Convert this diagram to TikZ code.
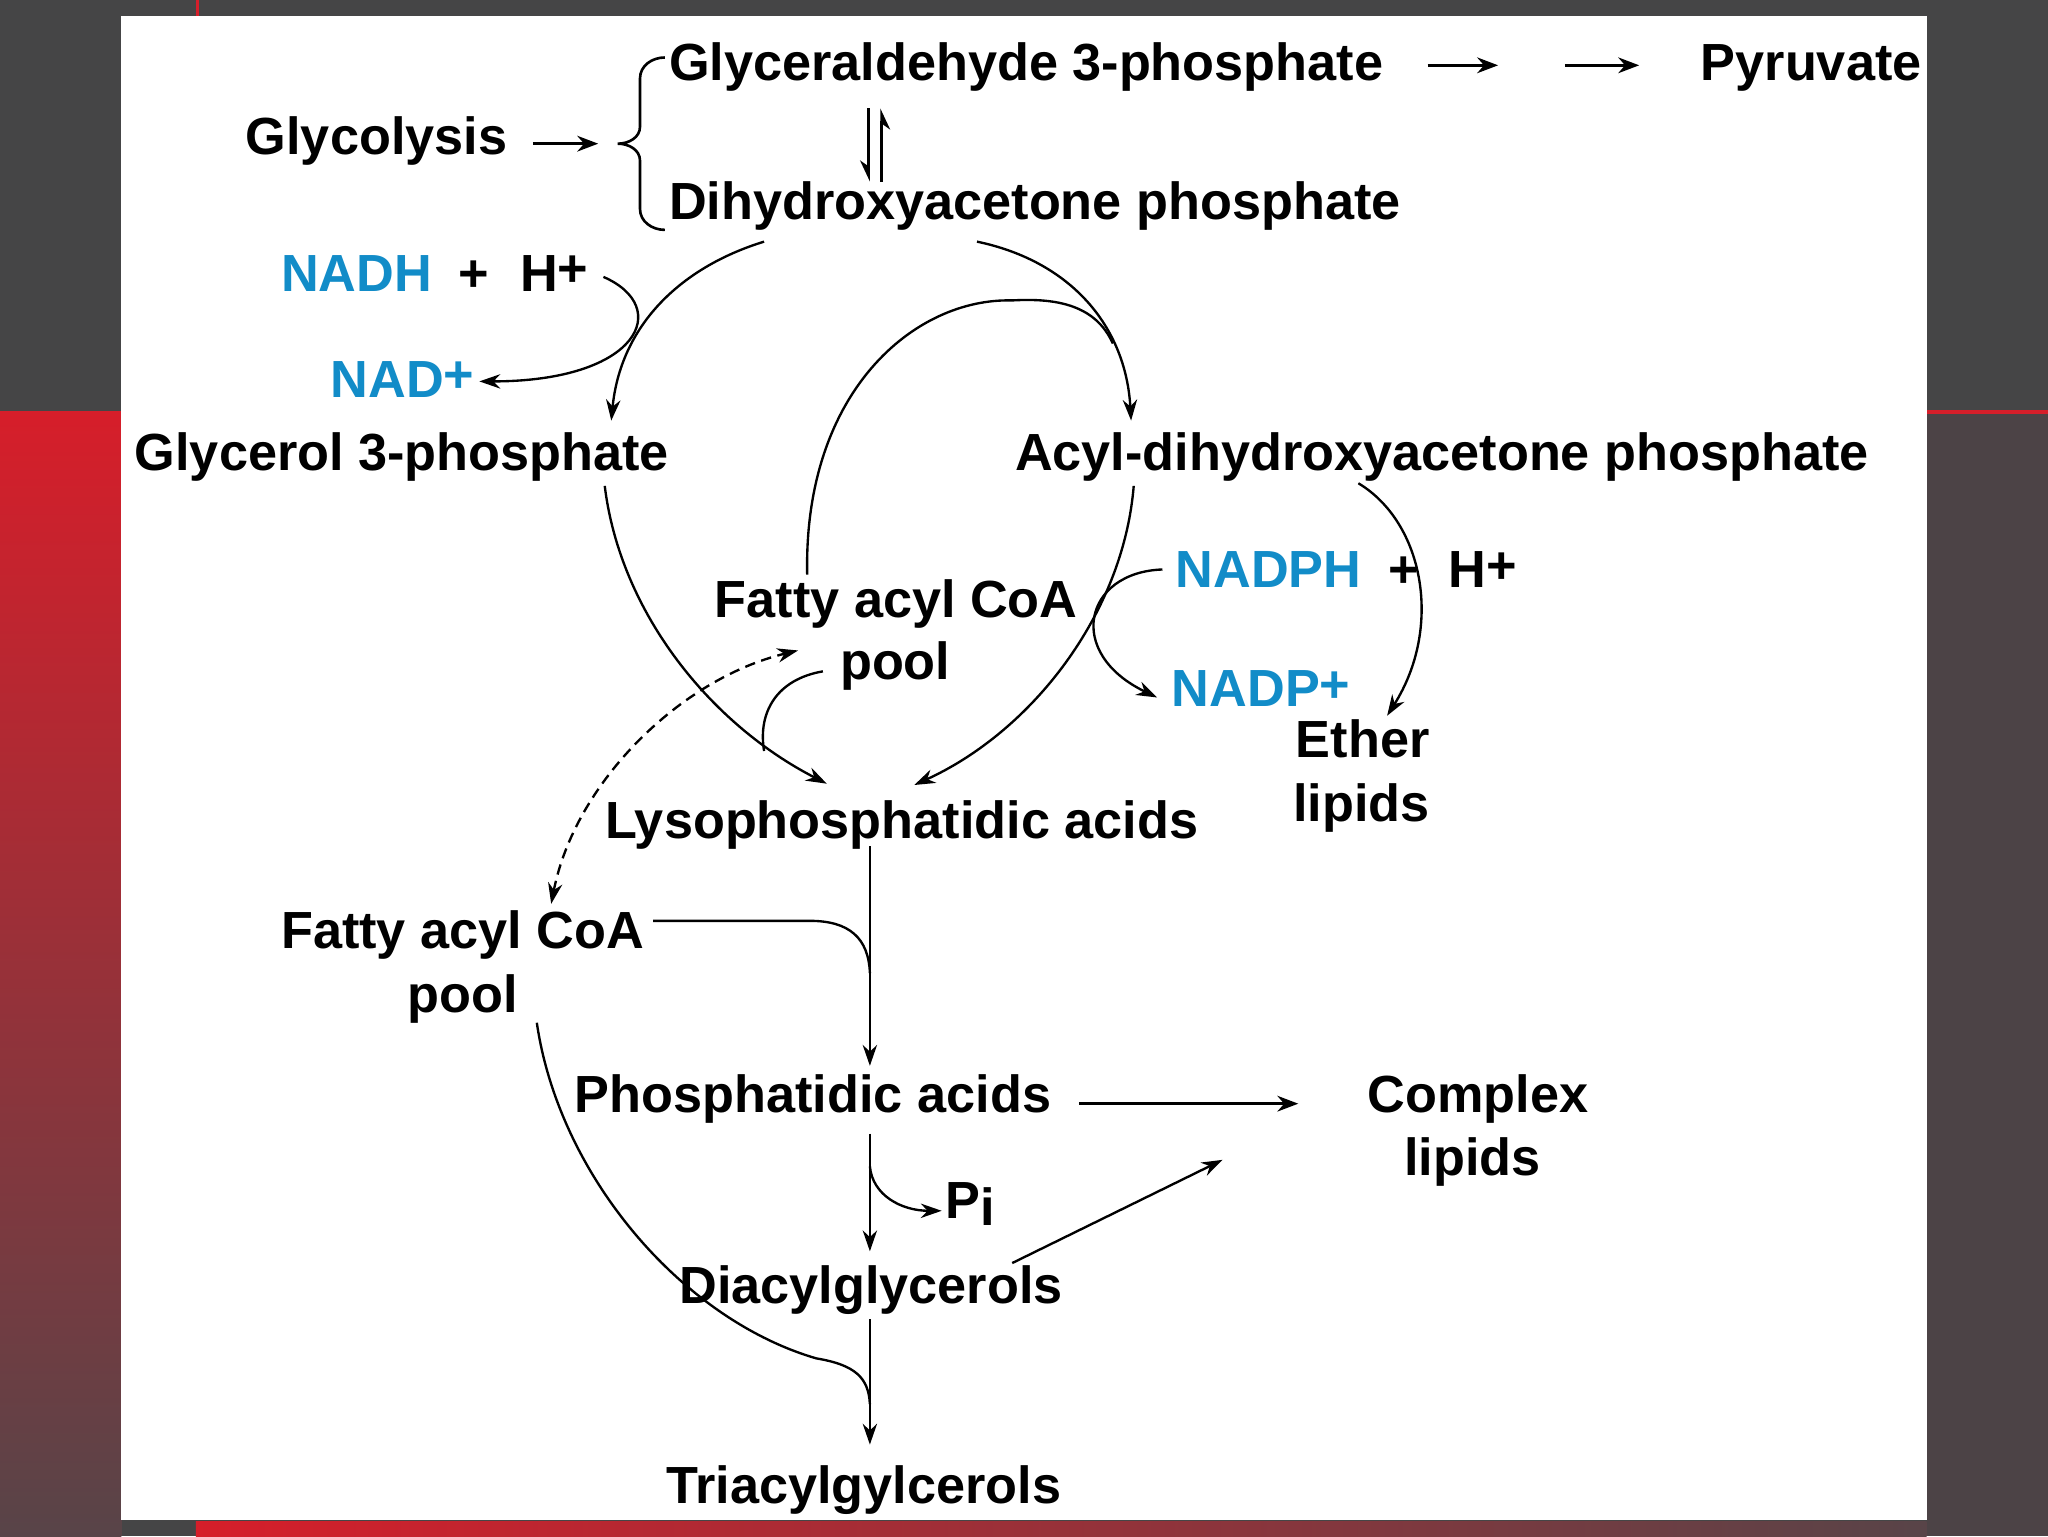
\documentclass[tikz,border=0pt]{standalone}
\usepackage{fontspec}
\setmainfont{Liberation Sans}
\usetikzlibrary{arrows.meta}
\definecolor{bggray}{RGB}{69,69,70}
\definecolor{slidered}{RGB}{214,30,42}
\definecolor{darkred}{RGB}{88,68,72}
\definecolor{rightbrown}{RGB}{76,67,70}
\definecolor{nadblue}{RGB}{18,140,200}
\newcommand\rplus{\raisebox{3.5pt}{+}}
\begin{document}
\begin{tikzpicture}[x=1pt,y=-1pt,
  lbl/.style={font=\fontsize{40}{48}\selectfont\bfseries, inner sep=0pt, anchor=base west},
  blu/.style={lbl,text=nadblue},
  conn/.style={line width=1.8pt,-{Stealth[length=16pt,width=11pt]}},
  bold conn/.style={line width=2.4pt,-{Stealth[length=16pt,width=12pt]}},
  both conn/.style={line width=1.8pt,dash pattern=on 8pt off 5pt,{Stealth[length=16pt,width=11pt]}-{Stealth[length=16pt,width=11pt]}},
  plainline/.style={line width=1.8pt},
  harp/.style={line width=2pt,-{Stealth[right,length=14pt,width=13pt]}}
]
% ---------- background ----------
\useasboundingbox (0,0) rectangle (1568,1176);
\fill[bggray] (0,0) rectangle (1568,1176);
\shade[top color=slidered,bottom color=darkred] (0,315) rectangle (93,1176);
\fill[rightbrown] (1475,316) rectangle (1568,1176);
\fill[slidered] (1475,314) rectangle (1568,317);
\shade[left color=slidered,right color=darkred] (150,1165) rectangle (1475,1176);
\draw[slidered,line width=2pt] (151,0) -- (151,12);
\fill[white] (93,12) rectangle (1475,1164);

% ---------- nodes ----------
\node[lbl] (g3p) at (512,62) {Glyceraldehyde 3-phosphate};
\node[lbl] (pyr) at (1302,62) {Pyruvate};
\node[lbl] (glyc) at (188,118) {Glycolysis};
\node[lbl] (dhap) at (512,168) {Dihydroxyacetone phosphate};
\node[blu] (nadh) at (215,223) {NADH};
\node[lbl] (plusA) at (351,223) {+};
\node[lbl] (hA) at (398,223) {H\rplus};
\node[blu] (nad) at (253,304) {NAD\rplus};
\node[lbl] (gro) at (103,360) {Glycerol 3-phosphate};
\node[lbl] (adhap) at (777,360) {Acyl-dihydroxyacetone phosphate};
\node[blu] (nadph) at (900,450) {NADPH};
\node[lbl] (plusB) at (1063,450) {+};
\node[lbl] (hB) at (1109,450) {H\rplus};
\node[lbl] (faA) at (547,473) {Fatty acyl CoA};
\node[lbl] (poolA) at (643,520) {pool};
\node[blu] (nadp) at (897,541) {NADP\rplus};
\node[lbl] (ether) at (992,580) {Ether};
\node[lbl] (etherB) at (990,629) {lipids};
\node[lbl] (lyso) at (463,642) {Lysophosphatidic acids};
\node[lbl] (faB) at (215,726) {Fatty acyl CoA};
\node[lbl] (poolB) at (312,775) {pool};
\node[lbl] (pa) at (440,852) {Phosphatidic acids};
\node[lbl] (cl) at (1047,852) {Complex};
\node[lbl] (clB) at (1075,900) {lipids};
\node[lbl] (pi) at (724,933) {P\raisebox{-5pt}{i}};
\node[lbl] (dag) at (520,998) {Diacylglycerols};
\node[lbl] (tag) at (510,1151) {Triacylgylcerols};

% ---------- connector end points ----------
\coordinate (glycR) at (408,110);
\coordinate (braceTip) at (458,110);
\coordinate (eqA1) at (665,83);  \coordinate (eqA2) at (665,139);
\coordinate (eqB1) at (675,139); \coordinate (eqB2) at (675,83);
\coordinate (g3pR) at (1093,50); \coordinate (midT) at (1147,50);
\coordinate (midS) at (1198,50); \coordinate (pyrL) at (1255,50);
\coordinate (dhapL) at (585,185);
\coordinate (groT) at (468,322);
\coordinate (hAR) at (462,212);
\coordinate (nadR) at (367,292);
\coordinate (dhapR) at (748,185);
\coordinate (adhapT) at (866,322);
\coordinate (poolAtop) at (618,440);
\coordinate (archTop) at (775,230);
\coordinate (mergeG) at (852,263);
\coordinate (groB) at (463,372);
\coordinate (lysoL) at (633,600);
\coordinate (lysoR) at (700,601);
\coordinate (adhapB) at (868,372);
\coordinate (nadphL) at (890,436);
\coordinate (nadpL) at (886,534);
\coordinate (adhapE) at (1040,370);
\coordinate (etherT) at (1062,548);
\coordinate (poolAL) at (630,514);
\coordinate (mergeI) at (585,575);
\coordinate (dashA) at (611,498);
\coordinate (dashB) at (422,692);
\coordinate (lysoB) at (666,648);
\coordinate (paT) at (666,816);
\coordinate (faBR) at (500,705);
\coordinate (faBbend) at (620,705);
\coordinate (mergeP) at (666,745);
\coordinate (paR) at (826,845);
\coordinate (clL) at (994,845);
\coordinate (paB) at (666,868);
\coordinate (dagT) at (666,958);
\coordinate (piSplit) at (666,893);
\coordinate (piL) at (721,927);
\coordinate (dagR) at (775,967);
\coordinate (clB2) at (936,888);
\coordinate (dagB) at (666,1010);
\coordinate (tagT) at (666,1106);
\coordinate (poolBB) at (411,783);
\coordinate (uBend) at (625,1040);
\coordinate (mergeU) at (666,1075);

% ---------- brace ----------
\draw[line width=2pt] (509,44) to[out=180,in=90] (490,60) -- (490,97)
  to[out=-90,in=0] (473,110) to[out=0,in=90] (490,123) -- (490,160)
  to[out=-90,in=180] (509,176);

% ---------- connectors ----------
\draw[bold conn] (glycR) -- (braceTip);
\draw[bold conn] (g3pR) -- (midT);
\draw[bold conn] (midS) -- (pyrL);
\draw[harp] (eqA1) -- (eqA2);
\draw[harp] (eqB1) -- (eqB2);

\draw[conn] (dhapL) .. controls (520,205) and (475,250) .. (groT);
\draw[conn] (hAR) .. controls (515,235) and (490,292) .. (nadR);
\draw[conn] (dhapR) .. controls (820,200) and (862,250) .. (adhapT);
\draw[plainline] (poolAtop) .. controls (615,300) and (700,228) .. (archTop)
  .. controls (810,228) and (839,234) .. (mergeG);

\draw[conn] (groB) .. controls (475,470) and (545,555) .. (lysoL);
\draw[plainline] (poolAL) .. controls (595,520) and (580,545) .. (mergeI);
\draw[conn] (adhapB) .. controls (860,470) and (790,560) .. (lysoR);
\draw[conn] (nadphL) .. controls (830,438) and (815,500) .. (nadpL);
\draw[conn] (adhapE) .. controls (1090,400) and (1105,480) .. (etherT);
\draw[both conn] (dashB) .. controls (440,600) and (520,520) .. (dashA);

\draw[conn] (lysoB) -- (paT);
\draw[plainline] (faBR) -- (faBbend) .. controls (650,705) and (665,718) .. (mergeP);
\draw[bold conn] (paR) -- (clL);
\draw[conn] (paB) -- (dagT);
\draw[conn] (piSplit) .. controls (668,915) and (690,927) .. (piL);
\draw[conn] (dagR) -- (clB2);
\draw[conn] (dagB) -- (tagT);
\draw[plainline] (poolBB) .. controls (428,900) and (522,1010) .. (uBend)
  .. controls (655,1045) and (665,1055) .. (mergeU);
\end{tikzpicture}
\end{document}
